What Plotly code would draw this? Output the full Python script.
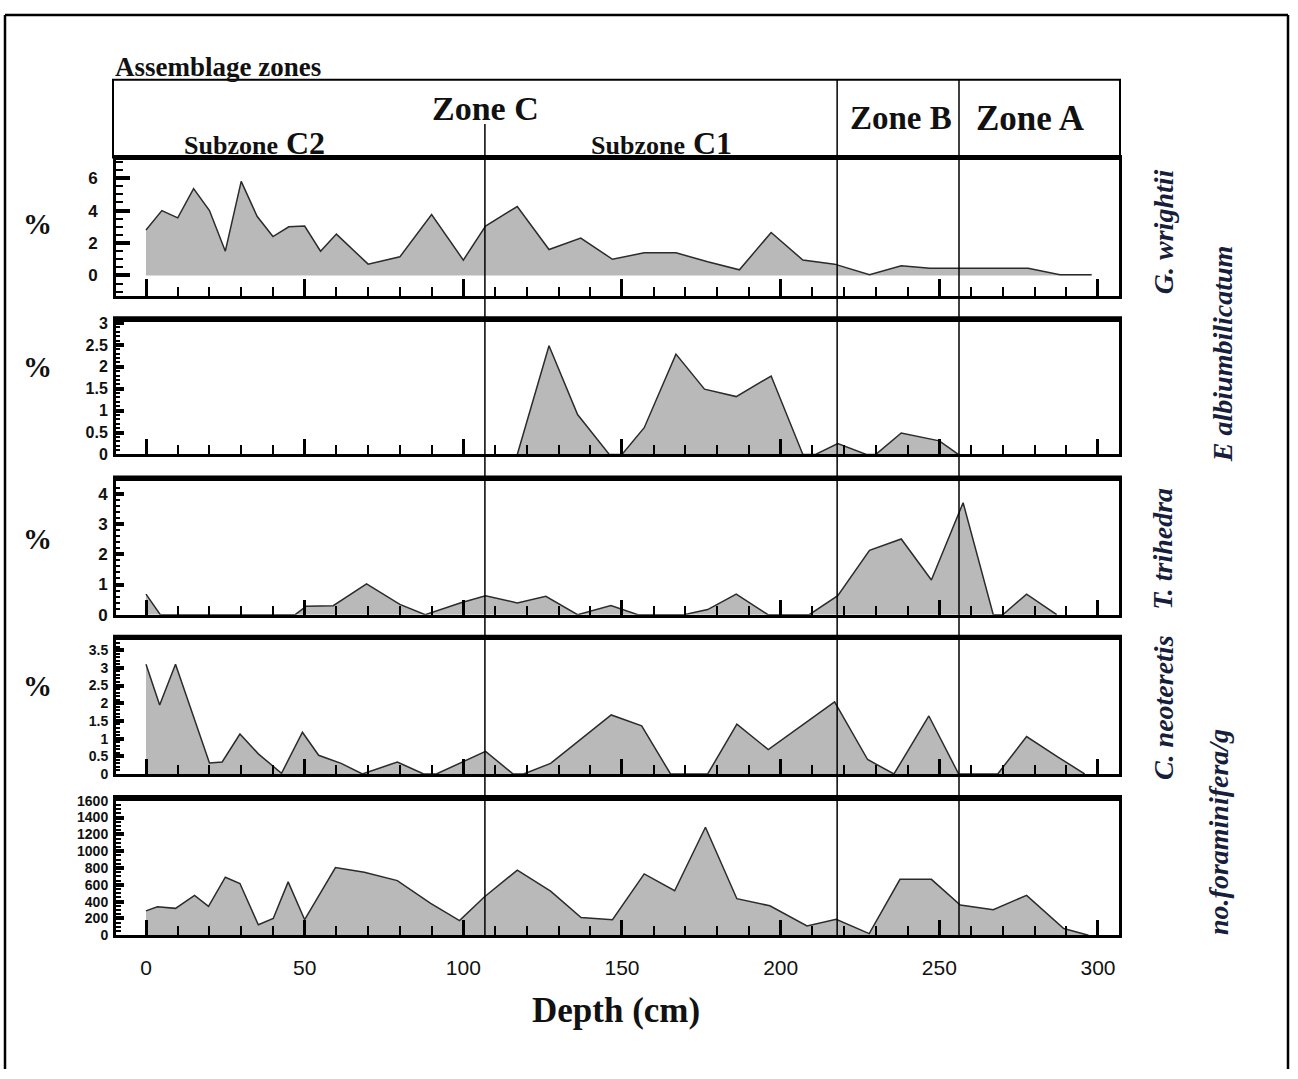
import plotly.graph_objects as go

W, H = 1298, 1079

# ---------------- data ----------------
gw_depth = [0, 5, 10, 15, 20, 25, 30, 35, 40, 45, 50, 55, 60, 70, 80, 90, 100, 107, 117, 127,
            137, 147, 157, 167, 177, 187, 197, 207, 217, 228, 238, 247, 256, 278, 288, 298]
gw_val = [2.8, 4.0, 3.55, 5.35, 4.0, 1.5, 5.8, 3.65, 2.4, 3.0, 3.05, 1.5, 2.55, 0.7, 1.15, 3.75, 0.95, 3.05, 4.25, 1.6,
          2.3, 1.0, 1.4, 1.4, 0.85, 0.35, 2.65, 0.95, 0.7, 0.05, 0.6, 0.45, 0.45, 0.45, 0.05, 0.05]

ea_depth = [117, 127, 136, 146, 150, 157, 167, 176, 186, 197, 207, 211, 218, 227, 230, 238, 250, 256]
ea_val = [0, 2.48, 0.91, 0, 0, 0.61, 2.29, 1.49, 1.32, 1.79, 0, 0, 0.25, 0, 0, 0.49, 0.31, 0]

tt_depth = [0, 4.5, 47, 50.5, 59, 69.5, 80, 88, 99, 107, 117, 126, 136, 146.5, 155, 169.5, 177, 186, 196,
            209, 218, 228, 238, 247.5, 257.5, 267, 270, 277.5, 287]
tt_val = [0.68, 0, 0, 0.28, 0.30, 1.02, 0.34, 0, 0.39, 0.63, 0.39, 0.61, 0, 0.30, 0, 0, 0.17, 0.68, 0,
          0, 0.63, 2.13, 2.51, 1.15, 3.71, 0, 0, 0.68, 0]

cn_depth = [0, 4.3, 9.3, 20, 24, 29.6, 35.4, 42.7, 49.3, 54.4, 61.5, 68.2, 79.2, 87.5, 91.5, 107, 115.7, 119,
            127.5, 146.6, 156.2, 165.3, 177, 186.2, 196.1, 217, 227.4, 235.7, 246.7, 256.1, 268.4, 277.5,
            287.4, 295.8]
cn_val = [3.1, 1.95, 3.1, 0.31, 0.34, 1.13, 0.57, 0.02, 1.18, 0.53, 0.30, 0, 0.34, 0, 0, 0.64, 0, 0,
          0.30, 1.67, 1.36, 0, 0, 1.41, 0.69, 2.04, 0.41, 0, 1.64, 0, 0, 1.06, 0.48, 0]

nf_depth = [0, 3.6, 9.3, 15.3, 19.7, 25, 29.6, 35.4, 40.1, 44.8, 50, 59.7, 68.8, 79.2, 89.7, 98.8, 106.6,
            117, 127.5, 137.1, 147, 157, 166.6, 176.3, 186.2, 196.6, 208.3, 217.5, 227.9, 237.6, 247.5,
            256.6, 267, 277.5, 289.2, 297]
nf_val = [290, 340, 320, 475, 345, 690, 615, 125, 200, 635, 185, 805, 750, 650, 380, 175, 455,
          775, 525, 210, 185, 730, 530, 1285, 435, 350, 110, 190, 20, 665, 665, 360, 305, 475, 80, 0]

zone_bounds = [106.8, 217.8, 256.2]
x_ticks = [0, 50, 100, 150, 200, 250, 300]
species = ["G. wrightii", "E albiumbilicatum", "T. trihedra", "C. neoteretis", "no.foraminifera/g"]

# ---------------- layout helpers ----------------
def fx(p):
    return p / W

def fy(p):
    return 1 - p / H

X_IN = (116, 1119)
x_range = [(X_IN[0] - 146) / 3.1733, (X_IN[1] - 146) / 3.1733]

NARROW = "Liberation Sans Narrow, Arial Narrow, Liberation Sans, Arial, sans-serif"
WIDE = "Liberation Sans, Arial, sans-serif"
SERIF = "Liberation Serif, Times New Roman, serif"
INK = "#111111"

panels = [
    dict(d=gw_depth, v=gw_val, dom=(155, 293), rng=[-1.27, 7.09], dt=2, mdt=0.5, tl=14, mtl=7, so=12, fs=17, ff=NARROW, xtl=17),
    dict(d=ea_depth, v=ea_val, dom=(319, 454), rng=[0, 3.03], dt=0.5, mdt=0.1, tl=8, mtl=4, so=2, fs=16, ff=NARROW, xtl=15),
    dict(d=tt_depth, v=tt_val, dom=(481, 617), rng=[0, 4.43], dt=1, mdt=0.2, tl=8, mtl=4, so=2, fs=17, ff=NARROW, xtl=15),
    dict(d=cn_depth, v=cn_val, dom=(643, 779), rng=[0, 3.78], dt=0.5, mdt=0.1, tl=8, mtl=4, so=2, fs=14, ff=NARROW, xtl=15),
    dict(d=nf_depth, v=nf_val, dom=(806, 943), rng=[0, 1602], dt=200, mdt=50, tl=8, mtl=5, so=2, fs=14, ff=WIDE, xtl=15),
]

fig = go.Figure()
layout = dict(
    autosize=True, margin=dict(l=0, r=0, t=0, b=0, pad=0),
    paper_bgcolor="white", plot_bgcolor="white", showlegend=False,
)

shapes = []
annotations = []

for i, p in enumerate(panels, start=1):
    xa = "x" if i == 1 else f"x{i}"
    ya = "y" if i == 1 else f"y{i}"
    fig.add_trace(go.Scatter(
        x=p["d"], y=p["v"], xaxis=xa, yaxis=ya, mode="lines",
        line=dict(color="#2b2b2b", width=1.5), fill="tozeroy", fillcolor="#b9b9b9",
        hoverinfo="skip",
    ))
    last = (i == len(panels))
    layout["xaxis" if i == 1 else f"xaxis{i}"] = dict(
        domain=[fx(X_IN[0]), fx(X_IN[1])], range=x_range, anchor=ya,
        showgrid=False, zeroline=False, showline=True, mirror=True, linewidth=3, linecolor="black",
        tickmode="array", tickvals=x_ticks, ticks="inside", ticklen=p["xtl"], tickwidth=3, tickcolor="black",
        minor=dict(tickmode="linear", tick0=0, dtick=10, ticks="inside", ticklen=9, tickwidth=2, tickcolor="black"),
        showticklabels=last, ticklabelstandoff=12,
        tickfont=dict(family=NARROW, size=21, color=INK),
    )
    layout["yaxis" if i == 1 else f"yaxis{i}"] = dict(
        domain=[fy(p["dom"][1]), fy(p["dom"][0])], range=p["rng"], anchor=xa,
        showgrid=False, zeroline=False, showline=True, mirror=True, linewidth=3, linecolor="black",
        tickmode="linear", tick0=0, dtick=p["dt"], ticks="inside", ticklen=p["tl"], tickwidth=4, tickcolor="black",
        minor=dict(tickmode="linear", tick0=0, dtick=p["mdt"], ticks="inside", ticklen=p["mtl"], tickwidth=2,
                   tickcolor="black"),
        ticklabelstandoff=p["so"],
        tickfont=dict(family=p["ff"], size=p["fs"], color=INK, weight="bold"),
    )
    # thick top border of each panel
    top = p["dom"][0] - 3
    shapes.append(dict(type="line", xref="paper", yref="paper", x0=fx(113), x1=fx(1122),
                       y0=fy(top), y1=fy(top), line=dict(color="black", width=5)))

# percent labels
for yy in [220, 365, 540, 690]:
    annotations.append(dict(text="<b>%</b>", x=fx(37), y=fy(yy), xref="paper", yref="paper",
                            xanchor="center", yanchor="middle",
                            showarrow=False, font=dict(family=SERIF, size=29, color=INK)))

# species labels (rotated)
label_pos = [(1163, 228), (1222, 352), (1163, 550), (1163, 712), (1218, 838)]
for name, (lx, ly) in zip(species, label_pos):
    annotations.append(dict(text=f"<b><i>{name}</i></b>", x=fx(lx), y=fy(ly), xref="paper", yref="paper",
                            xanchor="center", yanchor="middle",
                            showarrow=False, textangle=-90,
                            font=dict(family=SERIF, size=28, color="#17203a")))

# header box
shapes.append(dict(type="rect", xref="paper", yref="paper", x0=fx(113), x1=fx(1120), y0=fy(152), y1=fy(73),
                   line=dict(color="black", width=2)))
# zone boundary lines
zone_tops = [118, 73, 73]
for zb, zt in zip(zone_bounds, zone_tops):
    shapes.append(dict(type="line", xref="x5", yref="paper", x0=zb, x1=zb, y0=fy(945), y1=fy(zt),
                       line=dict(color="black", width=1.5)))

# outer border
for (x0, y0, x1, y1) in [(5, 7, 1288, 7), (5, 7, 5, 1079), (1288, 7, 1288, 1079)]:
    shapes.append(dict(type="line", xref="paper", yref="paper", x0=fx(x0), x1=fx(x1), y0=fy(y0), y1=fy(y1),
                       line=dict(color="black", width=2.5)))

def hdr(text, x, y, size, xanchor="center"):
    annotations.append(dict(text=text, x=fx(x), y=fy(y), xref="paper", yref="paper", showarrow=False,
                            xanchor=xanchor, yanchor="middle", font=dict(family=SERIF, size=size, color=INK)))

hdr("<b>Assemblage zones</b>", 113, 60, 27, xanchor="left")
hdr("<b>Zone C</b>", 485, 102, 34)
hdr("<b><span style='font-size:26px'>Subzone</span> C2</b>", 255, 137, 32)
hdr("<b><span style='font-size:26px'>Subzone</span> C1</b>", 661, 137, 32)
hdr("<b>Zone B</b>", 901, 112, 33)
hdr("<b>Zone A</b>", 1030, 112, 35)
hdr("<b>Depth (cm)</b>", 616, 1019, 35)

layout["shapes"] = shapes
layout["annotations"] = annotations
fig.update_layout(**layout)

fig.write_html(
    "out.html", include_plotlyjs=True, default_width="100%", default_height="100%",
    config={"displayModeBar": False, "responsive": True},
    post_script=(
        "document.documentElement.style.margin='0';document.documentElement.style.height='100%';"
        "document.body.style.margin='0';document.body.style.height='100%';"
        "document.body.style.overflow='hidden';"
        "var gd=document.getElementById('{plot_id}');"
        "gd.style.width='100vw';gd.style.height='100vh';"
        "Plotly.Plots.resize(gd);"
    ),
)
